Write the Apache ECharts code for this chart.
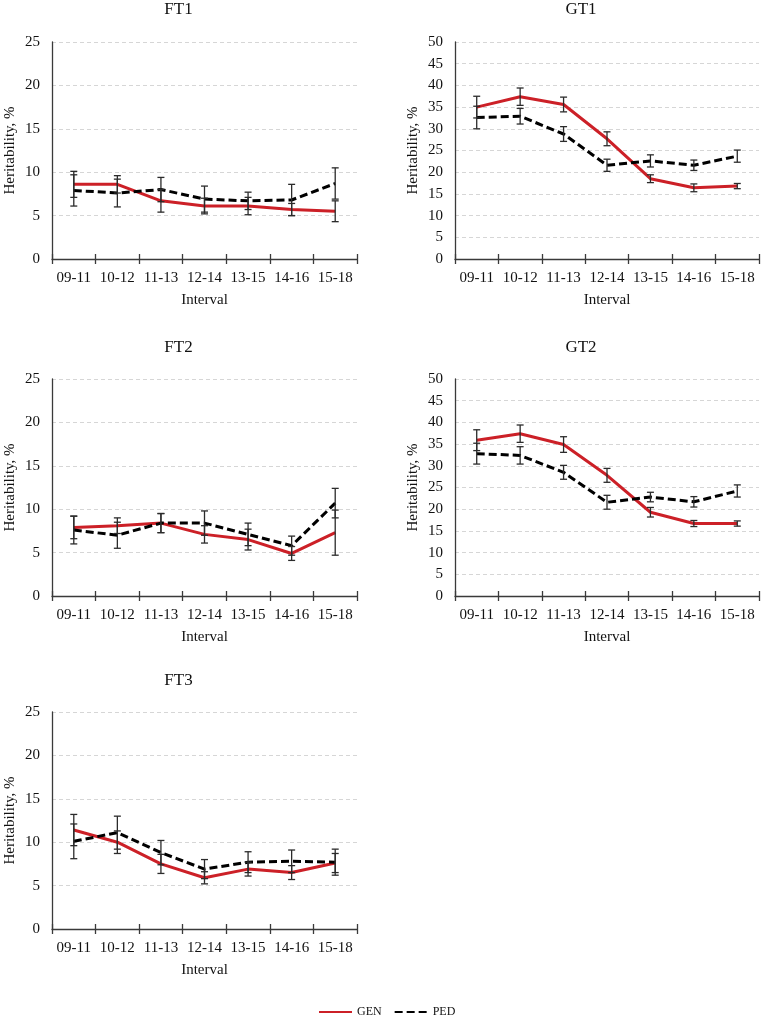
<!DOCTYPE html>
<html>
<head>
<meta charset="utf-8">
<script src="https://cdn.jsdelivr.net/npm/echarts@6/dist/echarts.min.js"></script>
<style>
html,body{margin:0;padding:0;background:#fff;}
#chart{width:761px;height:1021px;}
</style>
</head>
<body>
<div id="chart"></div>
<script>
// ---- data ----
const categories = ['09-11','10-12','11-13','12-14','13-15','14-16','15-18'];
const panelNames = ['FT1','GT1','FT2','GT2','FT3'];
const seriesNames = ['GEN','PED'];
const ftTicks = {min: 0, max: 25, interval: 5};
const gtTicks = {min: 0, max: 50, interval: 5};

const FT1_GEN = [8.6, 8.6, 6.7, 6.1, 6.1, 5.7, 5.5];
const FT1_GEN_ERR = [1.5, 1.0, 1.3, 0.9, 1.0, 0.7, 1.2];
const FT1_PED = [7.9, 7.6, 8.0, 6.9, 6.7, 6.8, 8.7];
const FT1_PED_ERR = [1.8, 1.6, 1.4, 1.5, 1.0, 1.8, 1.8];

const GT1_GEN = [35.0, 37.4, 35.6, 27.7, 18.5, 16.4, 16.8];
const GT1_GEN_ERR = [2.5, 2.0, 1.7, 1.6, 0.9, 0.9, 0.6];
const GT1_PED = [32.6, 32.9, 28.8, 21.6, 22.6, 21.6, 23.7];
const GT1_PED_ERR = [2.6, 1.8, 1.7, 1.4, 1.4, 1.2, 1.4];

const FT2_GEN = [7.9, 8.1, 8.4, 7.1, 6.5, 4.9, 7.3];
const FT2_GEN_ERR = [1.3, 0.9, 1.1, 1.0, 1.2, 0.8, 2.6];
const FT2_PED = [7.6, 7.0, 8.4, 8.4, 7.1, 5.8, 10.7];
const FT2_PED_ERR = [1.6, 1.5, 1.1, 1.4, 1.3, 1.1, 1.7];

const GT2_GEN = [35.9, 37.4, 34.9, 27.8, 19.3, 16.7, 16.7];
const GT2_GEN_ERR = [2.4, 2.0, 1.8, 1.6, 1.1, 0.7, 0.6];
const GT2_PED = [32.8, 32.4, 28.5, 21.6, 22.8, 21.7, 24.2];
const GT2_PED_ERR = [2.4, 2.0, 1.6, 1.6, 1.1, 1.2, 1.4];

const FT3_GEN = [11.4, 10.0, 7.5, 5.9, 6.9, 6.5, 7.6];
const FT3_GEN_ERR = [1.8, 1.3, 1.1, 0.7, 0.8, 0.8, 1.1];
const FT3_PED = [10.1, 11.1, 8.8, 6.9, 7.7, 7.8, 7.7];
const FT3_PED_ERR = [2.0, 1.9, 1.4, 1.1, 1.2, 1.3, 1.5];

// ---- build ----
const panels = [
  {name: 'FT1', gen: FT1_GEN, genErr: FT1_GEN_ERR, ped: FT1_PED, pedErr: FT1_PED_ERR, ticks: ftTicks},
  {name: 'GT1', gen: GT1_GEN, genErr: GT1_GEN_ERR, ped: GT1_PED, pedErr: GT1_PED_ERR, ticks: gtTicks},
  {name: 'FT2', gen: FT2_GEN, genErr: FT2_GEN_ERR, ped: FT2_PED, pedErr: FT2_PED_ERR, ticks: ftTicks},
  {name: 'GT2', gen: GT2_GEN, genErr: GT2_GEN_ERR, ped: GT2_PED, pedErr: GT2_PED_ERR, ticks: gtTicks},
  {name: 'FT3', gen: FT3_GEN, genErr: FT3_GEN_ERR, ped: FT3_PED, pedErr: FT3_PED_ERR, ticks: ftTicks}
];

const FONT = 'Liberation Serif, Times New Roman, serif';
const RED = '#cc2027';
const AXIS = '#3a3a3a';
const colLeft = [52, 455];
const colWidth = [305, 304];
const rowTop = [42, 379, 712];
const rowTitle = [1, 339, 672];
const gridH = 217;

const grids = [], xAxes = [], yAxes = [], titles = [], series = [];

function errData(vals, errs) {
  return vals.map((v, i) => [i, v - errs[i], v + errs[i]]);
}
function errRender(params, api) {
  const x = api.value(0);
  const lo = api.coord([x, api.value(1)]);
  const hi = api.coord([x, api.value(2)]);
  const cap = 3.5;
  const st = {stroke: '#2b2b2b', lineWidth: 1.3};
  return {
    type: 'group',
    children: [
      {type: 'line', shape: {x1: lo[0], y1: lo[1], x2: hi[0], y2: hi[1]}, style: st},
      {type: 'line', shape: {x1: lo[0] - cap, y1: lo[1], x2: lo[0] + cap, y2: lo[1]}, style: st},
      {type: 'line', shape: {x1: hi[0] - cap, y1: hi[1], x2: hi[0] + cap, y2: hi[1]}, style: st}
    ]
  };
}

panels.forEach((p, k) => {
  const col = k % 2, row = Math.floor(k / 2);
  const left = colLeft[col], top = rowTop[row], w = colWidth[col];
  grids.push({left: left, top: top, width: w, height: gridH, containLabel: false});
  titles.push({
    text: p.name, left: left + w / 2 - 26, top: rowTitle[row], textAlign: 'center', padding: 0,
    textStyle: {fontFamily: FONT, fontSize: 17, fontWeight: 'normal', color: '#111'}
  });
  // main x axis
  xAxes.push({
    type: 'category', gridIndex: k, data: categories, boundaryGap: true, position: 'bottom',
    name: 'Interval', nameLocation: 'middle', nameGap: 34,
    nameTextStyle: {fontFamily: FONT, fontSize: 15, color: '#111'},
    axisLine: {show: true, lineStyle: {color: AXIS, width: 1.3}},
    axisTick: {show: true, interval: 0, length: 5, lineStyle: {color: AXIS, width: 1.3}},
    axisLabel: {interval: 0, margin: 12, fontFamily: FONT, fontSize: 15, color: '#111'}
  });
  // inner tick axis (ticks crossing the axis line)
  xAxes.push({
    type: 'category', gridIndex: k, data: categories, boundaryGap: true, position: 'bottom',
    axisLine: {show: false},
    axisTick: {show: true, inside: true, interval: 0, length: 5, lineStyle: {color: AXIS, width: 1.3}},
    axisLabel: {show: false}, splitLine: {show: false}
  });
  yAxes.push({
    type: 'value', gridIndex: k, min: p.ticks.min, max: p.ticks.max, interval: p.ticks.interval,
    name: 'Heritability, %', nameLocation: 'middle', nameGap: 34,
    nameTextStyle: {fontFamily: FONT, fontSize: 15, color: '#111'},
    axisLine: {show: true, lineStyle: {color: AXIS, width: 1.3}},
    axisTick: {show: false},
    axisLabel: {margin: 12, fontFamily: FONT, fontSize: 15, color: '#111'},
    splitLine: {show: true, lineStyle: {color: '#d6d6d6', width: 1, type: [4, 3]}}
  });
  const xi = k * 2;
  series.push({
    name: 'GEN', type: 'line', xAxisIndex: xi, yAxisIndex: k, data: p.gen,
    symbol: 'none', lineStyle: {color: RED, width: 3}, itemStyle: {color: RED}, z: 2
  });
  series.push({
    name: 'PED', type: 'line', xAxisIndex: xi, yAxisIndex: k, data: p.ped,
    symbol: 'none', lineStyle: {color: '#000', width: 3, type: [8, 4]}, itemStyle: {color: '#000'}, z: 2
  });
  series.push({
    name: 'GEN error', type: 'custom', xAxisIndex: xi, yAxisIndex: k,
    data: errData(p.gen, p.genErr), renderItem: errRender, z: 4, silent: true
  });
  series.push({
    name: 'PED error', type: 'custom', xAxisIndex: xi, yAxisIndex: k,
    data: errData(p.ped, p.pedErr), renderItem: errRender, z: 4, silent: true
  });
});

const chart = echarts.init(document.getElementById('chart'), null, {renderer: 'canvas'});
chart.setOption({
  backgroundColor: '#fff',
  animation: false,
  textStyle: {fontFamily: FONT},
  title: titles,
  grid: grids,
  xAxis: xAxes,
  yAxis: yAxes,
  legend: {
    data: seriesNames, left: 318, top: 1006, padding: 0, itemWidth: 33, itemHeight: 12, itemGap: 12,
    itemStyle: {color: 'rgba(0,0,0,0)', borderWidth: 0, opacity: 0},
    textStyle: {fontFamily: FONT, fontSize: 12, color: '#111'}
  },
  series: series
});
</script>
</body>
</html>
